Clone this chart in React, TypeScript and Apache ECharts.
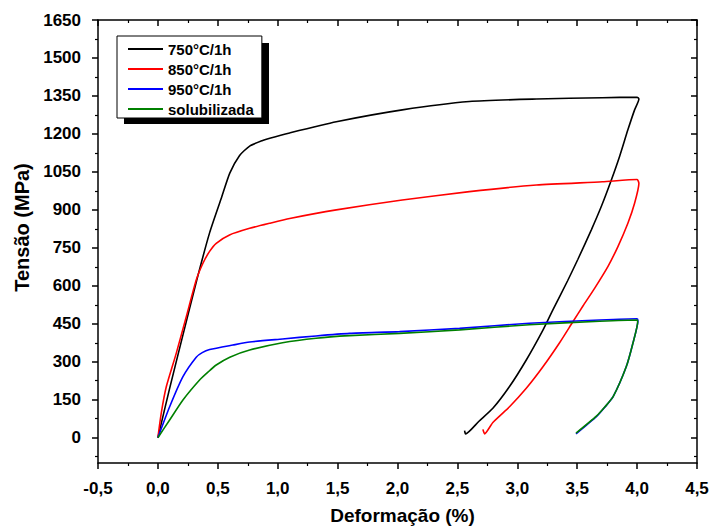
import React, { useEffect, useRef } from "react";
import * as echarts from "echarts";

const seriesNames = ["750°C/1h", "850°C/1h", "950°C/1h", "solubilizada"];
const seriesColors = ["#000000", "#ff0000", "#0000ff", "#008000"];

const strain750 = [0, 0.098, 0.206, 0.323, 0.432, 0.532, 0.6, 0.682, 0.766, 0.874, 0.934, 1.1, 1.489, 2.04, 2.6, 3.16, 3.71, 4.0, 4.015, 3.979, 3.923, 3.853, 3.785, 3.701, 3.618, 3.506, 3.42, 3.297, 3.214, 3.075, 2.935, 2.796, 2.68, 2.568, 2.56];
const stress750 = [0, 195, 400, 620, 810, 950, 1045, 1115, 1152, 1174, 1183, 1204, 1248, 1295, 1328, 1338, 1343, 1345, 1338, 1295, 1216, 1110, 1018, 913, 821, 705, 620, 505, 425, 307, 202, 116, 65, 15, 28];

const strain850 = [0, 0.028, 0.07, 0.153, 0.237, 0.32, 0.376, 0.43, 0.487, 0.598, 0.766, 0.932, 1.1, 1.489, 2.04, 2.6, 3.16, 3.71, 4.0, 4.015, 3.979, 3.923, 3.84, 3.756, 3.645, 3.548, 3.464, 3.353, 3.214, 3.075, 2.935, 2.796, 2.727, 2.713];
const stress850 = [0, 97, 201, 333, 478, 623, 689, 735, 768, 801, 827, 847, 866, 900, 939, 972, 998, 1011, 1020, 1005, 926, 847, 755, 676, 590, 520, 458, 375, 280, 195, 122, 60, 15, 33];

const strain950 = [0, 0.098, 0.209, 0.32, 0.37, 0.432, 0.626, 0.766, 1.04, 1.32, 1.6, 2.017, 2.518, 3.1, 3.687, 4.0, 4.007, 3.965, 3.91, 3.8, 3.73, 3.66, 3.49];
const stress950 = [0, 122, 241, 318, 336, 348, 366, 378, 390, 402, 412, 419, 432, 452, 465, 470, 462, 373, 281, 162, 120, 83, 15];

const strainSol = [0, 0.098, 0.209, 0.348, 0.42, 0.487, 0.6, 0.766, 1.04, 1.32, 1.6, 2.017, 2.518, 3.1, 3.687, 4.0, 4.005, 3.965, 3.91, 3.8, 3.73, 3.66, 3.49];
const stressSol = [0, 70, 149, 228, 260, 287, 318, 346, 375, 393, 403, 412, 426, 446, 460, 465, 458, 373, 281, 162, 121, 85, 18];

const yMajorTicks = [0, 150, 300, 450, 600, 750, 900, 1050, 1200, 1350, 1500, 1650];
const yMinorTicks = [-75, 75, 225, 375, 525, 675, 825, 975, 1125, 1275, 1425, 1575];

const FONT = "'Liberation Sans', Arial, sans-serif";

function zip(xs: number[], ys: number[]) {
  return xs.map((x, i) => [x, ys[i]]);
}

export default function App() {
  const ref = useRef<HTMLDivElement>(null);
  useEffect(() => {
    if (!ref.current) return;
    const chart = echarts.init(ref.current, null, { renderer: "svg" });
    const allStrain = [strain750, strain850, strain950, strainSol];
    const allStress = [stress750, stress850, stress950, stressSol];
    const lineAxis = { show: true, onZero: false, lineStyle: { color: "#000", width: 1.5 } };
    const noLine = { show: false, onZero: false };
    const yBase = { type: "value", min: -100, max: 1650, splitLine: { show: false } };
    chart.setOption({
      animation: false,
      backgroundColor: "#ffffff",
      grid: { left: 98, right: 16, top: 20, bottom: 67 },
      legend: {
        orient: "vertical",
        left: 117,
        top: 36,
        data: seriesNames,
        icon: "rect",
        itemWidth: 35,
        itemHeight: 2,
        itemGap: 2,
        padding: [4, 8, 0, 11],
        backgroundColor: "#ffffff",
        borderColor: "#000",
        borderWidth: 1,
        z: 5,
        textStyle: { fontFamily: FONT, fontWeight: "bold", fontSize: 15, lineHeight: 18, color: "#000" },
      },
      graphic: [
        { type: "rect", z: 1, shape: { x: 124, y: 43, width: 145, height: 81 }, style: { fill: "#000" } },
      ],
      xAxis: [
        {
          type: "value", position: "bottom", min: -0.5, max: 4.5, interval: 0.5,
          axisLine: lineAxis,
          axisTick: { show: true, length: 6, lineStyle: { color: "#000", width: 1.5 } },
          minorTick: { show: true, splitNumber: 2, length: 3, lineStyle: { color: "#000", width: 1.2 } },
          splitLine: { show: false },
          axisLabel: {
            margin: 17, color: "#000", fontFamily: FONT, fontWeight: "bold", fontSize: 17,
            formatter: (v: number) => v.toFixed(1).replace(".", ","),
          },
          name: "Deformação (%)", nameLocation: "middle", nameGap: 43,
          nameTextStyle: { fontFamily: FONT, fontWeight: "bold", fontSize: 19, color: "#000", padding: [0, 0, 0, 10] },
        },
        {
          type: "value", position: "top", min: -0.5, max: 4.5, interval: 0.5,
          axisLine: lineAxis,
          axisTick: { show: true, inside: true, length: 6, lineStyle: { color: "#000", width: 1.5 } },
          minorTick: { show: true, splitNumber: 2, length: 3, lineStyle: { color: "#000", width: 1.2 } },
          splitLine: { show: false },
          axisLabel: { show: false },
        },
      ],
      yAxis: [
        {
          ...yBase, position: "left",
          axisLine: lineAxis,
          axisTick: { show: true, length: 6, customValues: yMajorTicks, lineStyle: { color: "#000", width: 1.5 } },
          axisLabel: {
            customValues: yMajorTicks, margin: 17, color: "#000", fontFamily: FONT, fontWeight: "bold", fontSize: 17,
            formatter: (v: number) => String(v),
          },
          name: "Tensão (MPa)", nameLocation: "middle", nameGap: 61,
          nameTextStyle: { fontFamily: FONT, fontWeight: "bold", fontSize: 20, color: "#000", padding: [0, 0, 0, 28] },
        },
        {
          ...yBase, position: "left",
          axisLine: noLine,
          axisTick: { show: true, length: 3, customValues: yMinorTicks, lineStyle: { color: "#000", width: 1.2 } },
          axisLabel: { show: false },
        },
        {
          ...yBase, position: "right",
          axisLine: lineAxis,
          axisTick: { show: true, inside: true, length: 6, customValues: yMajorTicks, lineStyle: { color: "#000", width: 1.5 } },
          axisLabel: { show: false },
        },
        {
          ...yBase, position: "right",
          axisLine: noLine,
          axisTick: { show: true, inside: true, length: 3, customValues: yMinorTicks, lineStyle: { color: "#000", width: 1.2 } },
          axisLabel: { show: false },
        },
      ],
      series: seriesNames.map((name, i) => ({
        name,
        type: "line",
        xAxisIndex: 0,
        yAxisIndex: 0,
        data: zip(allStrain[i], allStress[i]),
        symbol: "none",
        smooth: 0.2,
        lineStyle: { color: seriesColors[i], width: 1.6 },
        itemStyle: { color: seriesColors[i] },
        z: 2 + i,
      })),
    });
    return () => chart.dispose();
  }, []);
  return <div ref={ref} style={{ position: "fixed", left: 0, top: 0, width: 713, height: 530 }} />;
}
